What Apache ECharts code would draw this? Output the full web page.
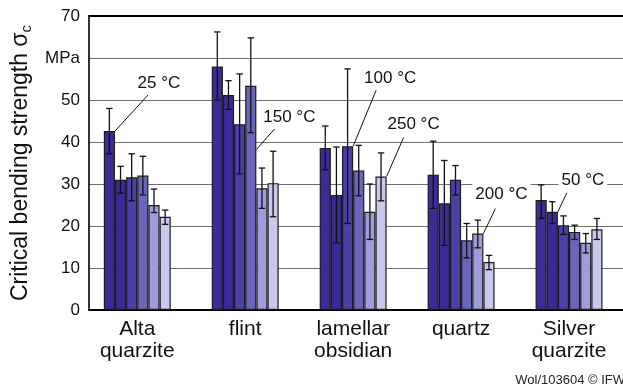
<!DOCTYPE html>
<html>
<head>
<meta charset="utf-8">
<script src="https://cdn.jsdelivr.net/npm/echarts@6/dist/echarts.min.js"></script>
<style>
  html, body { margin: 0; padding: 0; background: #fff; }
  #chart { width: 623px; height: 389px; }
</style>
</head>
<body>
<div id="chart"></div>
<script>
// Rock types tested
const categories = ['Alta\nquarzite', 'flint', 'lamellar\nobsidian', 'quartz', 'Silver\nquarzite'];
// Test temperatures, one bar per temperature in every group
const temperatures = ['25 °C', '50 °C', '100 °C', '150 °C', '200 °C', '250 °C'];

// Mean critical bending strength (MPa), per temperature across the rock types
const mean25  = [42.6, 58.0, 38.6, 32.2, 26.2];
const mean50  = [31.0, 51.2, 27.4, 25.4, 23.4];
const mean100 = [31.6, 44.2, 39.0, 31.0, 20.2];
const mean150 = [32.0, 53.4, 33.2, 16.6, 18.6];
const mean200 = [25.0, 29.0, 23.4, 18.2, 16.0];
const mean250 = [22.2, 30.2, 31.8, 11.4, 19.2];

// Scatter range (lower / upper end of the error bar)
const low25  = [37.2, 50.0, 33.4, 24.2, 21.8];
const high25 = [48.0, 66.2, 43.8, 40.2, 29.8];
const low50  = [27.8, 47.8, 16.0, 15.4, 20.6];
const high50 = [34.2, 54.6, 38.8, 35.6, 25.8];
const low100  = [26.0, 32.4, 20.6, 27.4, 18.0];
const high100 = [37.2, 56.2, 57.4, 34.4, 22.4];
const low150  = [27.4, 42.2, 27.2, 12.4, 16.8];
const high150 = [36.6, 64.8, 39.2, 20.6, 20.2];
const low200  = [23.2, 24.2, 16.8, 14.8, 13.6];
const high200 = [28.8, 33.8, 30.0, 21.4, 18.2];
const low250  = [20.4, 22.2, 26.0, 9.6, 16.8];
const high250 = [23.8, 37.8, 37.4, 13.0, 21.8];

// Y axis tick labels (the 60 position carries the unit)
const yTickLabels = ['0', '10', '20', '30', '40', '50', 'MPa', '70'];

// Which bar each temperature callout points at: [category index, temperature index, value on the bar]
const calloutTargets = [
  [0, 0, 42.6],
  [4, 1, 23.4],
  [2, 2, 39.0],
  [1, 3, 38.2],
  [3, 4, 18.2],
  [2, 5, 31.8]
];
// Callout placement relative to the anchor (pixels): label centre and leader start
const calloutLayout = [
  { lx: 44, ly: -48, sx: 33, sy: -36 },
  { lx: 25, ly: -31, sx: 9, sy: -19 },
  { lx: 37, ly: -68, sx: 23, sy: -56 },
  { lx: 33, ly: -32, sx: 22, sy: -25 },
  { lx: 18, ly: -39, sx: 12, sy: -25 },
  { lx: 27, ly: -52, sx: 17, sy: -39 }
];

const means = [mean25, mean50, mean100, mean150, mean200, mean250];
const lows = [low25, low50, low100, low150, low200, low250];
const highs = [high25, high50, high100, high150, high200, high250];
const colors = ['#3d2b97', '#3b2a99', '#4b40a8', '#6a66bb', '#9f9cdb', '#c9c9ef'];
const FONT = '"Liberation Sans", Arial, sans-serif';
const CAT_GAP = 0.38;
const N = temperatures.length;

const TOP = 16, BOTTOM = 79;

// left edge and width of bar s inside its category band
function barLeft(api, cat, s) {
  const c = api.coord([cat, 0])[0];
  const band = api.size([1, 0])[0];
  const groupW = band * (1 - CAT_GAP);
  const barW = groupW / N;
  return { left: c - groupW / 2 + barW * s, w: barW };
}

const barSeries = temperatures.map((t, s) => ({
  name: t,
  type: 'bar',
  xAxisIndex: 2,
  yAxisIndex: 1,
  data: means[s],
  barGap: '0%',
  barCategoryGap: (CAT_GAP * 100) + '%',
  itemStyle: { color: colors[s], borderColor: '#1c1c1c', borderWidth: 1.2 },
  z: 2
}));

const errData = [];
for (let s = 0; s < N; s++) {
  for (let c = 0; c < categories.length; c++) {
    errData.push([c, lows[s][c], highs[s][c], s]);
  }
}

const errorSeries = {
  type: 'custom',
  xAxisIndex: 2,
  yAxisIndex: 1,
  data: errData,
  encode: { x: 0, y: [1, 2] },
  z: 5,
  silent: true,
  renderItem: function (params, api) {
    const cat = api.value(0);
    const b = barLeft(api, cat, api.value(3));
    const x = b.left + b.w / 2;
    const y0 = api.coord([cat, api.value(1)])[1];
    const y1 = api.coord([cat, api.value(2)])[1];
    const cap = 3.2;
    const st = { stroke: '#111', lineWidth: 1.3 };
    return {
      type: 'group',
      children: [
        { type: 'line', shape: { x1: x, y1: y0, x2: x, y2: y1 }, style: st },
        { type: 'line', shape: { x1: x - cap, y1: y0, x2: x + cap, y2: y0 }, style: st },
        { type: 'line', shape: { x1: x - cap, y1: y1, x2: x + cap, y2: y1 }, style: st }
      ]
    };
  }
};

const calloutSeries = {
  type: 'custom',
  xAxisIndex: 2,
  yAxisIndex: 1,
  data: calloutTargets.map((d, i) => [d[0], d[2], d[1], i]),
  encode: { x: 0, y: 1 },
  z: 8,
  silent: true,
  renderItem: function (params, api) {
    const cat = api.value(0);
    const s = api.value(2);
    const lay = calloutLayout[api.value(3)];
    const b = barLeft(api, cat, s);
    const ax = b.left + b.w;
    const ay = api.coord([cat, api.value(1)])[1];
    return {
      type: 'group',
      children: [
        { type: 'line', shape: { x1: ax, y1: ay, x2: ax + lay.sx, y2: ay + lay.sy },
          style: { stroke: '#111', lineWidth: 1 } },
        { type: 'text', z2: 10, style: {
            text: temperatures[s], x: ax + lay.lx, y: ay + lay.ly,
            align: 'center', verticalAlign: 'middle',
            fontSize: 17, fontFamily: FONT, fill: '#111',
            backgroundColor: '#fff', padding: [3, 3]
          } }
      ]
    };
  }
};

const chart = echarts.init(document.getElementById('chart'), null, { renderer: 'canvas' });
chart.setOption({
  animation: false,
  backgroundColor: '#fff',
  grid: [
    { left: 89, right: 0, top: TOP, bottom: BOTTOM },
    { left: 83.3, width: 550, top: TOP, bottom: BOTTOM }
  ],
  xAxis: [
    { gridIndex: 0, type: 'category', data: categories, position: 'bottom',
      axisLine: { lineStyle: { color: '#000', width: 2 } },
      axisTick: { show: false }, axisLabel: { show: false }, splitLine: { show: false } },
    { gridIndex: 0, type: 'category', data: categories, position: 'top',
      axisLine: { lineStyle: { color: '#000', width: 1.8 } },
      axisTick: { show: false }, axisLabel: { show: false }, splitLine: { show: false } },
    { gridIndex: 1, type: 'category', data: categories, position: 'bottom',
      axisLine: { show: false }, axisTick: { show: false }, splitLine: { show: false },
      axisLabel: { color: '#111', fontSize: 21, fontFamily: FONT, lineHeight: 22, margin: 8, interval: 0 } }
  ],
  yAxis: [
    { gridIndex: 0, type: 'value', min: 0, max: 70, interval: 10,
      axisLine: { show: true, lineStyle: { color: '#000', width: 1.6 } },
      axisTick: { show: false },
      splitLine: { lineStyle: { color: '#6e6e6e', width: 1 } },
      axisLabel: { color: '#111', fontSize: 17, fontFamily: FONT, margin: 9,
        formatter: (v) => yTickLabels[Math.round(v / 10)] },
      name: '{t|Critical bending strength σ}{s|c}',
      nameLocation: 'middle', nameRotate: 90, nameGap: 52,
      nameTextStyle: { color: '#111', fontFamily: FONT,
        rich: {
          t: { fontSize: 23, fontFamily: FONT, color: '#111', lineHeight: 26 },
          s: { fontSize: 15, fontFamily: FONT, color: '#111', lineHeight: 14, verticalAlign: 'bottom' }
        } } },
    { gridIndex: 1, type: 'value', min: 0, max: 70, interval: 10, show: false,
      splitLine: { show: false } }
  ],
  series: barSeries.concat([errorSeries, calloutSeries]),
  graphic: [
    { type: 'text', right: -2, bottom: 2,
      style: { text: 'Wol/103604 © IFW', fontSize: 13, fontFamily: FONT, fill: '#222' } }
  ]
});
</script>
</body>
</html>
